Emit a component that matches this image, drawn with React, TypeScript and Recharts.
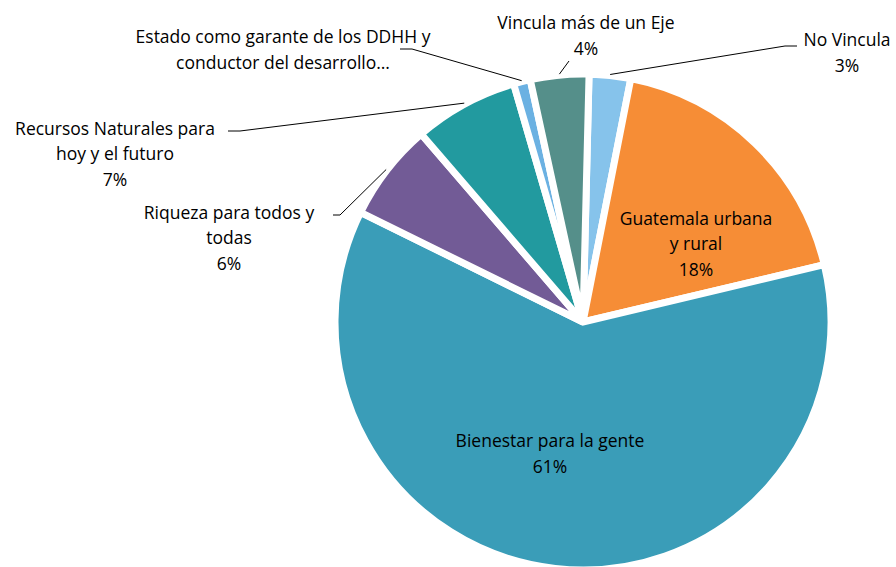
import React from 'react';
import { PieChart, Pie, Cell } from 'recharts';

// slices, clockwise from the top
const categories = [
  'No Vincula',
  'Guatemala urbana\ny rural',
  'Bienestar para la gente',
  'Riqueza para todos y\ntodas',
  'Recursos Naturales para\nhoy y el futuro',
  'Estado como garante de los DDHH y\nconductor del desarrollo…',
  'Vincula más de un Eje',
];
const shares = [2.7, 18.2, 61.0, 6.4, 6.8, 1.1, 3.8];
const showPercent = [true, true, true, true, true, false, true];

const colors = ['#86C3EB', '#F68D36', '#3A9DB8', '#725B96', '#229A9F', '#6BB1E2', '#558F8A'];

const data = categories.map((name, i) => ({ name, value: shares[i] }));

// label placement relative to the pie centre (Excel-like manual layout)
type LabelLayout = {
  inside?: boolean;
  dx: number;
  dy: number;
  elbow?: [number, number];
  end?: [number, number];
};
const labelLayout: LabelLayout[] = [
  { dx: 264, dy: -270, elbow: [202, -276], end: [214, -276] },
  { inside: true, dx: 113, dy: -79 },
  { inside: true, dx: -33, dy: 131 },
  { dx: -354, dy: -85, elbow: [-243, -107], end: [-250, -107] },
  { dx: -468, dy: -169, elbow: [-343, -191], end: [-355, -191] },
  { dx: -300, dy: -273, elbow: [-171, -273], end: [-183, -273] },
  { dx: 3, dy: -287, elbow: [-14, -261] },
];

const RAD = Math.PI / 180;
const LINE_H = 25.5;

const renderLabel = (props: any) => {
  const { cx, cy, midAngle, outerRadius, index, percent, name } = props;
  const lay = labelLayout[index];
  const lines: string[] = String(name).split('\n');
  if (showPercent[index]) lines.push(`${Math.round(percent * 100)}%`);
  const x = cx + lay.dx;
  const y0 = cy + lay.dy - ((lines.length - 1) * LINE_H) / 2;

  let leader: React.ReactNode = null;
  if (!lay.inside && lay.elbow) {
    const sx = cx + (outerRadius + 1) * Math.cos(-midAngle * RAD);
    const sy = cy + (outerRadius + 1) * Math.sin(-midAngle * RAD);
    const pts = [[sx, sy], [cx + lay.elbow[0], cy + lay.elbow[1]]];
    if (lay.end) pts.push([cx + lay.end[0], cy + lay.end[1]]);
    leader = (
      <polyline
        points={pts.map((p) => p.join(',')).join(' ')}
        fill="none"
        stroke="#000"
        strokeWidth={1}
      />
    );
  }

  return (
    <g key={`lbl-${index}`}>
      {leader}
      <text
        x={x}
        y={y0}
        textAnchor="middle"
        fill="#000"
        fontFamily="'Open Sans', sans-serif"
        fontSize={17.5}
      >
        {lines.map((l, i) => (
          <tspan key={i} x={x} y={y0 + i * LINE_H} dominantBaseline="central">
            {l}
          </tspan>
        ))}
      </text>
    </g>
  );
};

export default function App() {
  return (
    <div style={{ position: 'fixed', left: 0, top: 0, width: 896, height: 567, background: '#fff' }}>
      <PieChart width={896} height={567} margin={{ top: 0, right: 0, bottom: 0, left: 0 }}>
        <Pie
          data={data}
          dataKey="value"
          nameKey="name"
          cx={583}
          cy={322}
          outerRadius={248}
          startAngle={88.6}
          endAngle={-271.4}
          stroke="#fff"
          strokeWidth={7}
          label={renderLabel}
          labelLine={false}
          isAnimationActive={false}
        >
          {data.map((d, i) => (
            <Cell key={d.name} fill={colors[i]} />
          ))}
        </Pie>
      </PieChart>
    </div>
  );
}
